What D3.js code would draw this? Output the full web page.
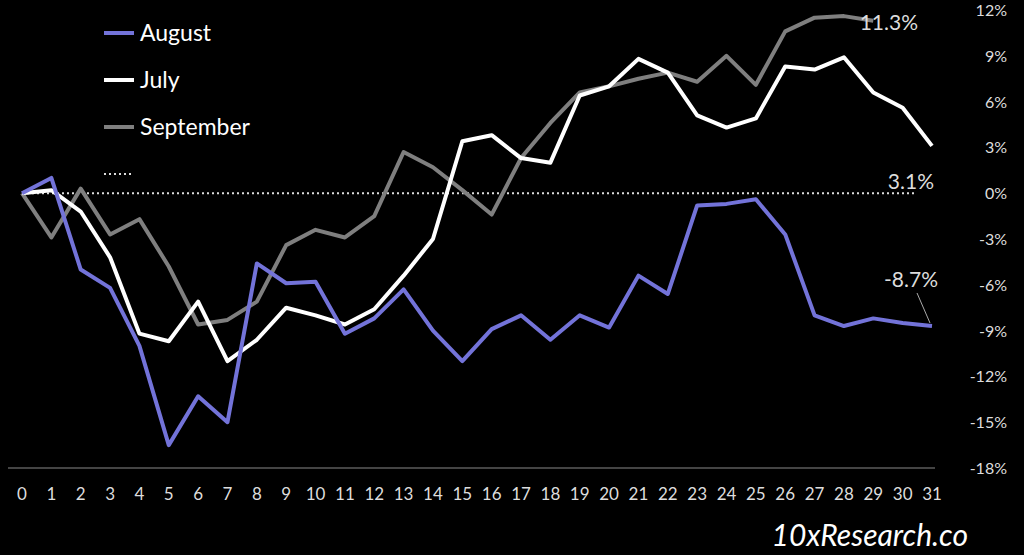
<!DOCTYPE html>
<html><head><meta charset="utf-8">
<script src="https://cdn.jsdelivr.net/npm/d3@7"></script>
<style>body{margin:0;background:#000}</style>
</head><body>
<script>
// days and monthly cumulative returns (%)
const days = d3.range(0, 32);
const august = [0,1.0,-5,-6.2,-10,-16.5,-13.3,-15,-4.6,-5.9,-5.8,-9.2,-8.2,-6.3,-9,-11,-8.9,-8,-9.6,-8,-8.8,-5.4,-6.6,-0.8,-0.7,-0.4,-2.7,-8,-8.7,-8.2,-8.5,-8.7];
const july = [0,0.2,-1.2,-4.2,-9.2,-9.7,-7.1,-11,-9.6,-7.5,-8,-8.6,-7.6,-5.4,-3,3.4,3.8,2.3,2,6.4,7,8.8,7.9,5.1,4.3,4.9,8.3,8.1,8.9,6.6,5.6,3.1];
const september = [0,-2.9,0.3,-2.7,-1.7,-4.8,-8.6,-8.3,-7.1,-3.4,-2.4,-2.9,-1.5,2.7,1.7,0.2,-1.4,2.3,4.6,6.6,7,7.5,7.9,7.3,9,7.1,10.6,11.5,11.6,11.3];
const yTicks = [12,9,6,3,0,-3,-6,-9,-12,-15,-18];

const W = 1024, H = 555;
const svg = d3.select("body").append("svg").attr("width", W).attr("height", H)
  .style("background", "#000").style("font-family", "Lato, 'Open Sans', sans-serif");

const x = d3.scaleLinear().domain([0, 31]).range([22, 932]);
const y = d3.scaleLinear().domain([-18, 12]).range([468, 10]);

// bottom axis line + day labels
svg.append("line").attr("x1", 8).attr("x2", 935).attr("y1", y(-18)).attr("y2", y(-18))
  .attr("stroke", "#888").attr("stroke-width", 1);
svg.selectAll(".xt").data(days).enter().append("text")
  .attr("x", d => x(d)).attr("y", 500).attr("text-anchor", "middle")
  .attr("fill", "#ddd").attr("font-size", 17).text(d => d);

// right axis labels
svg.selectAll(".yt").data(yTicks).enter().append("text")
  .attr("x", 1007).attr("y", d => y(d) + 6).attr("text-anchor", "end")
  .attr("fill", "#ddd").attr("font-size", 16).text(d => d + "%");

// zero dotted line
svg.append("line").attr("x1", x(0)).attr("x2", 915).attr("y1", y(0)).attr("y2", y(0))
  .attr("stroke", "#ddd").attr("stroke-width", 2).attr("stroke-dasharray", "2,3");

const line = d3.line().x((d, i) => x(i)).y(d => y(d));
const series = [
  {name: "September", data: september, color: "#7f7f7f"},
  {name: "July", data: july, color: "#ffffff"},
  {name: "August", data: august, color: "#7373d9"}
];
series.forEach(s => {
  svg.append("path").datum(s.data).attr("d", line).attr("fill", "none")
    .attr("stroke", s.color).attr("stroke-width", 4).attr("stroke-linejoin", "round");
});

// end labels
svg.append("text").attr("x", 918).attr("y", 30).attr("text-anchor", "end")
  .attr("fill", "#ddd").attr("font-size", 21).text("11.3%");
svg.append("text").attr("x", 934).attr("y", 189).attr("text-anchor", "end")
  .attr("fill", "#ddd").attr("font-size", 21).text("3.1%");
svg.append("text").attr("x", 938).attr("y", 287).attr("text-anchor", "end")
  .attr("fill", "#ddd").attr("font-size", 21).text("-8.7%");
svg.append("line").attr("x1", 917).attr("x2", 930).attr("y1", 293).attr("y2", y(-8.7) - 3)
  .attr("stroke", "#aaa").attr("stroke-width", 1);

// legend
const legend = [
  {name: "August", color: "#7373d9", dash: null},
  {name: "July", color: "#ffffff", dash: null},
  {name: "September", color: "#7f7f7f", dash: null},
  {name: "", color: "#ddd", dash: "2,3"}
];
legend.forEach((l, i) => {
  const ly = 33 + i * 47;
  svg.append("line").attr("x1", 104).attr("x2", 134).attr("y1", ly).attr("y2", ly)
    .attr("stroke", l.color).attr("stroke-width", l.dash ? 2 : 4)
    .attr("stroke-dasharray", l.dash);
  svg.append("text").attr("x", 140).attr("y", ly + 8).attr("fill", "#fff")
    .attr("font-size", 23).text(l.name);
});

// watermark
svg.append("text").attr("x", 968).attr("y", 546).attr("text-anchor", "end")
  .attr("fill", "#fff").attr("font-size", 30).attr("font-style", "italic").text("10xResearch.co");
</script>
</body></html>
